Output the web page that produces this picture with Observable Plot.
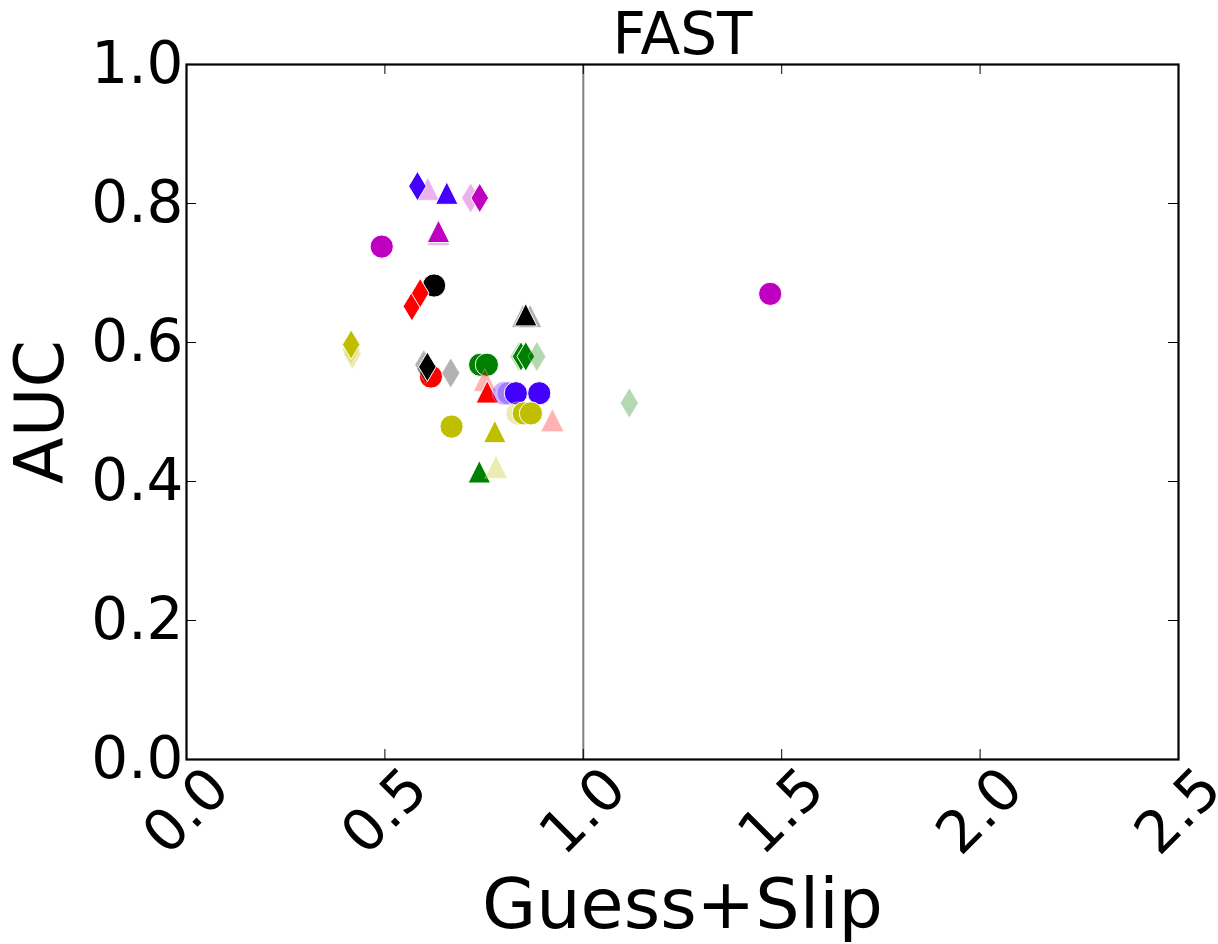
<!DOCTYPE html>
<html>
<head>
<meta charset="utf-8">
<script src="https://cdn.jsdelivr.net/npm/d3@7"></script>
<script src="https://cdn.jsdelivr.net/npm/@observablehq/plot@0.6"></script>
<style>
  html, body { margin: 0; padding: 0; background: #fff; }
</style>
</head>
<body>
<div id="chart"></div>
<script>
// ---- data ----
const guessSlip = [0.608,0.582,0.656,0.716,0.739,0.635,0.635,0.492,0.624,0.568,0.589,
                   0.848,0.866,0.855,0.418,0.415,0.415,0.616,0.598,0.603,0.607,0.666,
                   0.740,0.757,0.752,0.758,0.800,0.812,0.830,0.889,0.838,0.843,0.855,0.883,
                   0.835,0.850,0.868,0.922,0.668,0.777,0.738,0.780,1.116,1.471];
const aucValues = [0.821,0.825,0.815,0.808,0.808,0.756,0.760,0.738,0.682,0.652,0.671,
                   0.638,0.638,0.640,0.583,0.590,0.597,0.551,0.568,0.562,0.565,0.556,
                   0.568,0.568,0.546,0.529,0.527,0.527,0.527,0.527,0.580,0.580,0.580,0.580,
                   0.498,0.498,0.498,0.488,0.479,0.472,0.414,0.421,0.513,0.670];
const colourKey = ["m","b","b","m","m","m","m","m","k","r","r",
                   "k","k","k","y","y","y","r","k","k","k","k",
                   "g","g","r","r","b","b","b","b","g","g","g","g",
                   "y","y","y","r","y","y","g","y","g","m"];
const markerKey = ["^","d","^","d","d","^","^","o","o","d","d",
                   "^","^","^","d","d","d","o","d","d","d","d",
                   "o","o","^","^","o","o","o","o","d","d","d","d",
                   "o","o","o","^","o","^","^","^","d","o"];
const alphaVals = [0.3,1,1,0.3,1,0.3,1,1,1,1,1,
                   0.3,0.3,1,0.3,0.3,1,1,0.3,0.3,1,0.3,
                   1,1,0.3,1,0.3,0.3,1,1,0.3,1,1,0.3,
                   0.3,1,1,0.3,1,1,1,0.3,0.3,1];
const xTicks = [0, 0.5, 1.0, 1.5, 2.0, 2.5];
const yTicks = [0, 0.2, 0.4, 0.6, 0.8, 1.0];
const colourNames = {b: "#4400ff", m: "#c000c0", k: "#000000", r: "#ff0000", g: "#008000", y: "#bfbf00"};

const data = guessSlip.map((x, i) => ({
  x, y: aucValues[i], c: colourNames[colourKey[i]], s: markerKey[i], a: alphaVals[i]
}));

// matplotlib-like marker shapes
const mCircle = {draw(ctx, size) { const r = Math.sqrt(size / Math.PI); ctx.moveTo(r, 0); ctx.arc(0, 0, r, 0, 2 * Math.PI); ctx.closePath(); }};
const mTriangle = {draw(ctx, size) { const r = Math.sqrt(size / Math.PI) * 0.97; ctx.moveTo(0, -r); ctx.lineTo(-r, r); ctx.lineTo(r, r); ctx.closePath(); }};
const mThinDiamond = {draw(ctx, size) { const r = Math.sqrt(size / Math.PI); const h = r * 1.27, w = r * 0.76; ctx.moveTo(0, -h); ctx.lineTo(w, 0); ctx.lineTo(0, h); ctx.lineTo(-w, 0); ctx.closePath(); }};

const W = 1218, H = 944;
const mL = 186, mR = 40, mT = 64, mB = 185;
const pw = W - mL - mR, ph = H - mT - mB;
const font = "DejaVu Sans, sans-serif";

const chart = Plot.plot({
  width: W, height: H,
  marginLeft: mL, marginRight: mR, marginTop: mT, marginBottom: mB,
  style: {fontFamily: font, background: "#fff", overflow: "visible"},
  x: {domain: [0, 2.5], axis: null},
  y: {domain: [0, 1], axis: null},
  symbol: {domain: ["o", "^", "d"], range: [mCircle, mTriangle, mThinDiamond]},
  marks: [
    Plot.ruleX([1.0], {stroke: "#808080", strokeWidth: 2}),
    Plot.dot(data, {x: "x", y: "y", symbol: "s", fill: "c", fillOpacity: "a",
                    stroke: "#ffffff", strokeOpacity: "a", strokeWidth: 1, r: 11.6}),
    // inward ticks on all four sides
    Plot.tickX(xTicks, {x: d => d, insetTop: ph - 10, stroke: "#000", strokeWidth: 1}),
    Plot.tickX(xTicks, {x: d => d, insetBottom: ph - 10, stroke: "#000", strokeWidth: 1}),
    Plot.tickY(yTicks, {y: d => d, insetRight: pw - 10, stroke: "#000", strokeWidth: 1}),
    Plot.tickY(yTicks, {y: d => d, insetLeft: pw - 10, stroke: "#000", strokeWidth: 1}),
    Plot.frame({stroke: "#000", strokeWidth: 2.2}),
    // tick labels
    Plot.text(xTicks, {x: d => d, text: d => d3.format(".1f")(d), frameAnchor: "bottom",
                       dy: 52, rotate: -45, textAnchor: "middle", lineAnchor: "middle",
                       fontSize: 58, fill: "#000"}),
    Plot.text(yTicks, {y: d => d, text: d => d3.format(".1f")(d), frameAnchor: "left",
                       dx: -3, textAnchor: "end", lineAnchor: "middle",
                       fontSize: 58, fill: "#000"}),
    // axis labels and title
    Plot.text(["Guess+Slip"], {text: d => d, frameAnchor: "bottom", dy: 146, textAnchor: "middle",
                               lineAnchor: "middle", fontSize: 70, fill: "#000"}),
    Plot.text(["AUC"], {text: d => d, frameAnchor: "left", dx: -145, rotate: -90, textAnchor: "middle",
                        lineAnchor: "middle", fontSize: 68, fill: "#000"}),
    Plot.text(["FAST"], {text: d => d, frameAnchor: "top", dy: -29, textAnchor: "middle",
                         lineAnchor: "middle", fontSize: 58, fill: "#000"})
  ]
});
document.getElementById("chart").appendChild(chart);
</script>
</body>
</html>
